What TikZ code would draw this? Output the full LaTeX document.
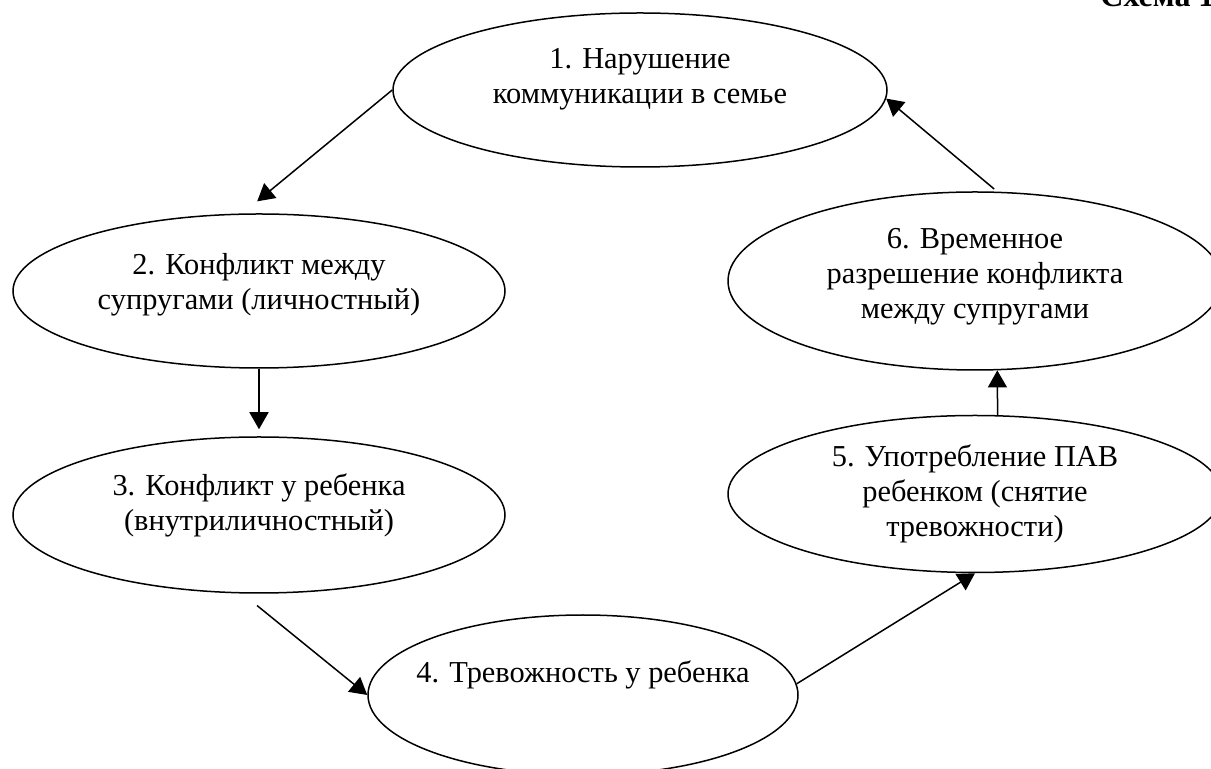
\documentclass[tikz,border=0pt]{standalone}
\usepackage{fontspec}
\setmainfont{Liberation Serif}
\usepackage{tikz}
\usetikzlibrary{positioning, shapes.geometric, arrows.meta}

\begin{document}
\begin{tikzpicture}[
        x=0.5pt, y=-0.5pt,
        stage/.style={ellipse, draw, line width=0.75pt, inner sep=0pt, minimum width=247pt, minimum height=77pt},
        txt/.style={align=center, font=\fontsize{15.2pt}{17.5pt}\selectfont},
        edge/.style={draw, line width=0.75pt, -{Triangle[length=8.5pt, width=9.5pt]}}
    ]
        \useasboundingbox (0,0) rectangle (1211,769);
        \clip (0,0) rectangle (1211,769);

        % Title
        \node[anchor=base west, inner sep=0pt, font=\fontsize{16pt}{19pt}\selectfont\bfseries] (title) at (1100,7) {Схема 1};

        % Stages
        \node[stage] (s1) at (640,90) {};
        \node[stage, minimum width=246pt] (s2) at (259,291) {};
        \node[stage, minimum width=246pt, minimum height=78pt] (s3) at (259,515) {};
        \node[stage, minimum width=215pt, minimum height=80pt] (s4) at (583,695) {};
        \node[stage, minimum height=78.5pt] (s5) at (975,494) {};
        \node[stage, minimum height=89pt] (s6) at (975,281) {};

        % Texts
        \node[txt] (t1) at ([yshift=5.5pt]s1.center) {1. Нарушение\\коммуникации в семье};
        \node[txt] (t2) at ([yshift=3pt]s2.center) {2. Конфликт между\\супругами (личностный)};
        \node[txt] (t3) at ([yshift=5pt]s3.center) {3. Конфликт у ребенка\\(внутриличностный)};
        \node[txt] (t4) at ([yshift=10pt]s4.center) {4. Тревожность у ребенка};
        \node[txt] (t5) at (s5.center) {5. Употребление ПАВ\\ребенком (снятие\\тревожности)};
        \node[txt] (t6) at ([yshift=2pt]s6.center) {6. Временное\\разрешение конфликта\\между супругами};

        % Arrows
        \draw[edge, shorten >=9.5pt] (s1.west) -- (s2.102);
        \draw[edge, shorten >=3.5pt] (s2.south) -- (s3.north);
        \draw[edge, shorten <=9.5pt] (s3.-102) -- (s4.west);
        \draw[edge] (s4.3) -- (s5.south);
        \draw[edge] (s5.74) -- (s6.-76);
        \draw[edge, shorten <=2pt] (s6.76) -- (s1.-2);
    \end{tikzpicture}
\end{document}
